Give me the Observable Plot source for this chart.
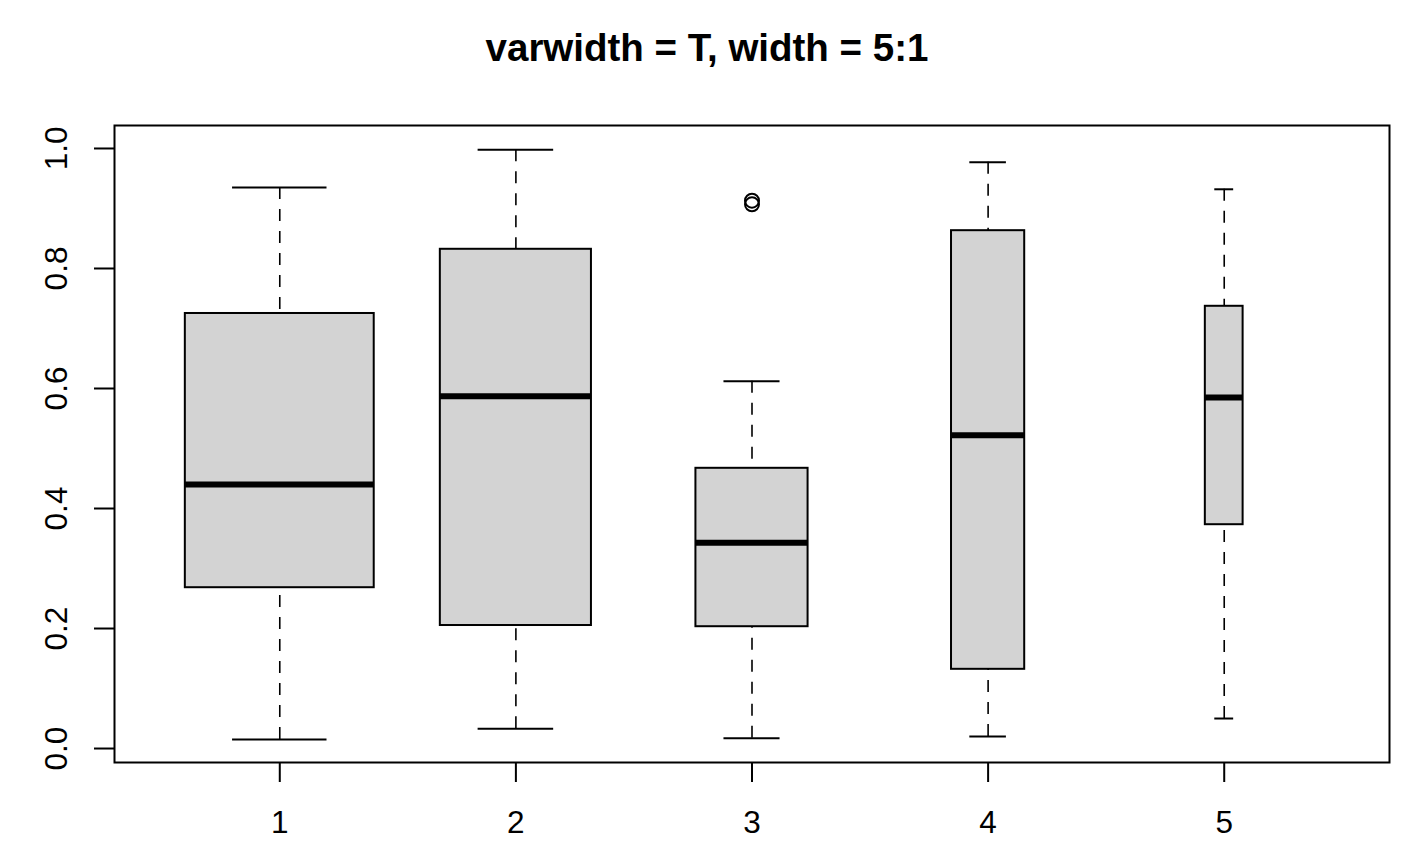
<!DOCTYPE html>
<html>
<head>
<meta charset="utf-8">
<script src="https://cdn.jsdelivr.net/npm/d3@7"></script>
<script src="https://cdn.jsdelivr.net/npm/@observablehq/plot@0.6"></script>
<style>
  html, body { margin: 0; padding: 0; background: #fff; }
  #title { height: 85px; width: 1414px; text-align: center; font-family: "Liberation Sans", Arial, sans-serif; font-weight: bold; font-size: 38.5px; line-height: 96px; color: #000; }
  svg { display: block; }
</style>
</head>
<body>
<div id="title">varwidth = T, width = 5:1</div>
<div id="chart"></div>
<script>
// ---- data ----
const groups  = [1, 2, 3, 4, 5];
const widths  = [0.8, 0.64, 0.475, 0.31, 0.16];
const lower   = [0.015, 0.033, 0.017, 0.020, 0.050];
const q1      = [0.268, 0.205, 0.203, 0.132, 0.373];
const median  = [0.440, 0.587, 0.343, 0.522, 0.585];
const q3      = [0.725, 0.832, 0.467, 0.863, 0.737];
const upper   = [0.935, 0.998, 0.612, 0.977, 0.932];
const outlierGroup = [3, 3];
const outlierValue = [0.913, 0.907];
const xTicks = [1, 2, 3, 4, 5];
const yTicks = [0, 0.2, 0.4, 0.6, 0.8, 1.0];

const boxes = groups.map((g, i) => ({
  g, w: widths[i], lo: lower[i], q1: q1[i], med: median[i], q3: q3[i], hi: upper[i]
}));
const outliers = outlierGroup.map((g, i) => ({g, v: outlierValue[i]}));

const font = "Liberation Sans, Arial, sans-serif";

const chart = Plot.plot({
  width: 1414,
  height: 777,
  marginTop: 40,
  marginBottom: 100,
  marginLeft: 114,
  marginRight: 25,
  style: {fontFamily: font, color: "#000", background: "#fff"},
  x: {domain: [0.3, 5.7], type: "linear", label: null},
  y: {domain: [-0.0233, 1.0383], label: null},
  marks: [
    // whiskers (dashed), drawn from the whisker end toward the box
    Plot.ruleX(boxes, {x: "g", y1: "lo", y2: "q1", stroke: "#000", strokeWidth: 1.6, strokeDasharray: "12,10"}),
    Plot.ruleX(boxes, {x: "g", y1: "hi", y2: "q3", stroke: "#000", strokeWidth: 1.6, strokeDasharray: "12,10"}),
    // staples
    Plot.ruleY(boxes, {y: "lo", x1: d => d.g - d.w / 4, x2: d => d.g + d.w / 4, stroke: "#000", strokeWidth: 2}),
    Plot.ruleY(boxes, {y: "hi", x1: d => d.g - d.w / 4, x2: d => d.g + d.w / 4, stroke: "#000", strokeWidth: 2}),
    // boxes
    Plot.rect(boxes, {x1: d => d.g - d.w / 2, x2: d => d.g + d.w / 2, y1: "q1", y2: "q3", fill: "#d3d3d3", stroke: "#000", strokeWidth: 2}),
    // medians
    Plot.ruleY(boxes, {y: "med", x1: d => d.g - d.w / 2, x2: d => d.g + d.w / 2, stroke: "#000", strokeWidth: 6}),
    // outliers
    Plot.dot(outliers, {x: "g", y: "v", r: 7, stroke: "#000", strokeWidth: 2, fill: "none"}),
    // frame
    Plot.frame({stroke: "#000", strokeWidth: 2}),
    // axes
    Plot.axisX({ticks: xTicks, tickSize: 20, tickPadding: 28, fontSize: 31.5, tickFormat: d => String(d), strokeWidth: 2, label: null}),
    Plot.axisY({ticks: yTicks, tickSize: 20, tickFormat: () => "", strokeWidth: 2, label: null}),
    Plot.text(yTicks, {y: d => d, text: d => d.toFixed(1), frameAnchor: "left", dx: -58, rotate: -90,
      fontSize: 31.5, textAnchor: "middle", lineAnchor: "middle", fill: "#000"})
  ]
});
document.getElementById("chart").appendChild(chart);
</script>
</body>
</html>
